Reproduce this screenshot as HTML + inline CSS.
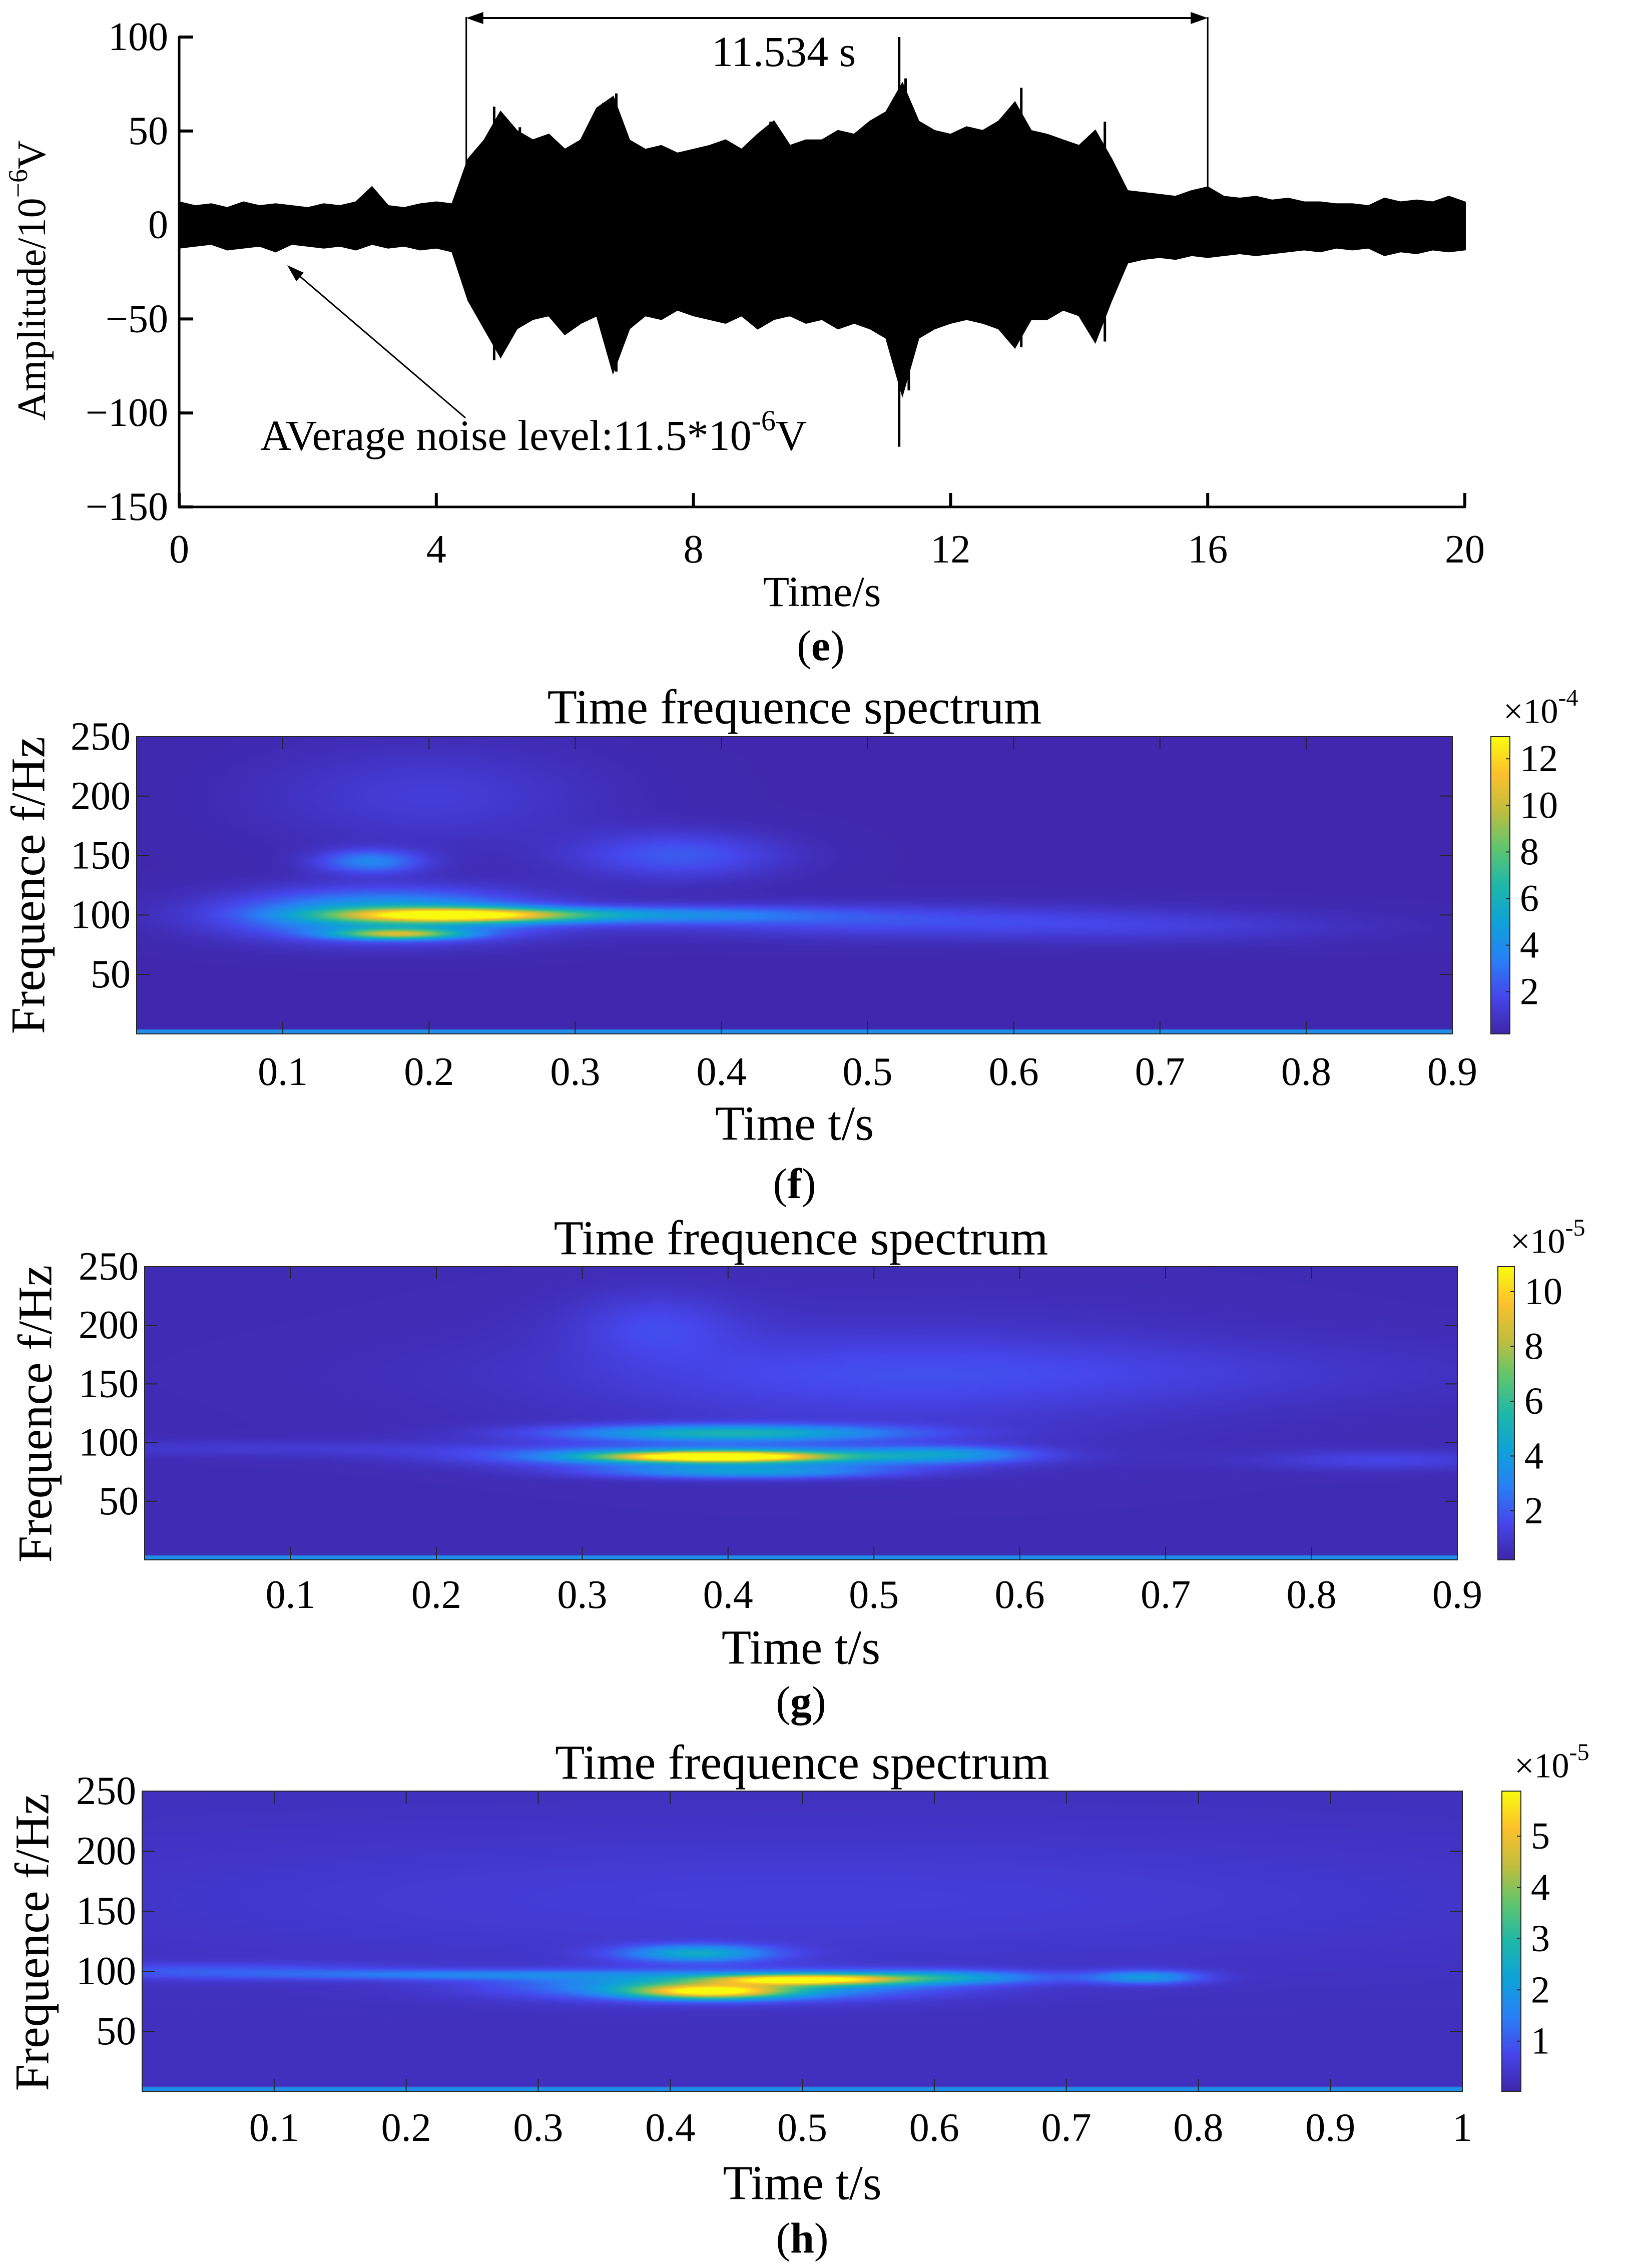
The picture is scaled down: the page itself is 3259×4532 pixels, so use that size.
<!DOCTYPE html>
<html><head><meta charset="utf-8">
<style>
html,body{margin:0;padding:0;background:#fff;}
#root{position:relative;width:3259px;height:4532px;overflow:hidden;background:#fff;}
canvas{position:absolute;}
svg{position:absolute;left:0;top:0;}
text{font-family:"Liberation Serif",serif;fill:#000;}
</style></head>
<body>
<div id="root">
<canvas id="cf"></canvas>
<canvas id="cg"></canvas>
<canvas id="ch"></canvas>
<svg id="svg" width="3259" height="4532" viewBox="0 0 3259 4532"></svg>
</div>
<script>
// ===== Panel (e) data: amplitude envelope (10^-6 V), step 0.25 s from 0 to 20 s =====
const envStep = 0.25;
const envHi = [12,10,11,9,12,10,11,10,9,11,10,12,20,10,9,11,12,11,
 35,45,60,50,45,48,40,45,62,68,45,40,42,38,40,42,45,40,48,55,42,45,45,50,48,55,60,75,55,50,48,52,50,55,65,50,48,45,42,50,35,
 18,17,16,15,18,20,15,14,15,13,14,12,12,11,11,10,14,12,13,12,15,12];
const envLo = [-12,-11,-10,-13,-12,-11,-14,-10,-11,-12,-11,-13,-10,-12,-11,-13,-12,-14,
 -40,-55,-70,-55,-50,-48,-58,-52,-48,-78,-55,-48,-50,-45,-48,-50,-52,-48,-55,-50,-48,-52,-50,-55,-52,-55,-60,-90,-60,-55,-52,-50,-52,-55,-65,-50,-50,-45,-48,-62,-40,
 -20,-18,-17,-18,-16,-17,-16,-15,-16,-15,-14,-13,-14,-12,-13,-12,-16,-14,-15,-13,-14,-13];
const spikeT = [3.0,4.9,5.3,6.6,6.8,9.2,11.2,11.3,13.1,14.4,4.9,6.0,6.8,11.2,11.35,13.1,14.4];
const spikeV = [20,63,52,65,70,55,100,78,73,55,-72,-58,-78,-118,-88,-65,-62];
const eXTicks = [0,4,8,12,16,20];
const eYTicks = [100,50,0,-50,-100,-150];

// ===== Heatmap blobs (t [s], f [Hz], amplitude, width t, width f) =====
const fT = [0.22,0.17,0.18,0.16,0.35,0.37,0.50,0.20,0.70];
const fF = [100,100,84,145,100,150,95,200,90];
const fA = [10.5,5.5,7.5,3.2,3.0,2.0,1.6,1.0,0.9];
const fWt= [0.055,0.07,0.03,0.025,0.08,0.05,0.12,0.08,0.1];
const fWf= [4,14,3,7,5,14,10,30,10];
const fBase = 0.3;

const gT = [0.39,0.40,0.40,0.41,0.55,0.35,0.60,0.85,0.10,0.50];
const gF = [88,88,108,75,90,200,160,85,95,150];
const gA = [9.8,4.5,4.5,3.2,2.3,1.0,0.7,1.0,0.6,0.7];
const gWt= [0.05,0.1,0.08,0.07,0.04,0.04,0.2,0.06,0.15,0.15];
const gWf= [3,6,5,4,5,20,20,6,5,40];
const gBase = 0.45;

const hT = [0.43,0.50,0.44,0.42,0.60,0.76,0.25,0.05,0.50];
const hF = [83,93,88,115,95,95,97,100,160];
const hA = [4.5,4.6,2.3,2.1,1.8,1.7,1.1,0.7,0.3];
const hWt= [0.04,0.05,0.1,0.04,0.06,0.03,0.1,0.1,0.4];
const hWf= [4,3,8,5,4,4,3,5,40];
const hBase = 0.25;

const NS='http://www.w3.org/2000/svg';
const svg=document.getElementById('svg');
function mk(tag,attrs,parent){const e=document.createElementNS(NS,tag);for(const k in attrs)e.setAttribute(k,attrs[k]);(parent||svg).appendChild(e);return e;}
function txt(x,y,s,size,anchor,parent){const t=mk('text',{x:x,y:y,'font-size':size,'text-anchor':anchor||'middle','dominant-baseline':'central'},parent);t.textContent=s;return t;}

// ===== Panel (e) =====
(function(){
 const g=mk('g',{});
 
 
 const L=358,R=2927,T=74,B=1013;
 const X=t=>L+(t-0)/(20-0)*(R-L);
 const Y=v=>T+(100-v)/(250)*(B-T);
 let d='';
 for(let i=0;i<envHi.length;i++){d+=(i?'L':'M')+X(i*envStep).toFixed(1)+' '+Y(envHi[i]).toFixed(1);}
 for(let i=envLo.length-1;i>=0;i--){d+='L'+X(i*envStep).toFixed(1)+' '+Y(envLo[i]).toFixed(1);}
 d+='Z';
 const w=mk('path',{d:d,fill:'#000',stroke:'#000','stroke-width':4},g);
 
 
 for(let i=0;i<spikeT.length;i++){
  const s=mk('line',{x1:X(spikeT[i]),x2:X(spikeT[i]),y1:Y(0),y2:Y(spikeV[i]),stroke:'#000','stroke-width':5},g);
  
  
 }
 const ax=mk('path',{d:`M${L} ${T-2}V${B}H${R+2}`,fill:'none',stroke:'#000','stroke-width':5},g);
 
 
 eYTicks.forEach(v=>{
  mk('line',{x1:L,x2:L+28,y1:Y(v),y2:Y(v),stroke:'#000','stroke-width':6},g);
  const t=txt(L-22,Y(v),(v<0?'\u2212'+(-v):''+v),80,'end',g);
  
  
 });
 eXTicks.forEach(v=>{
  mk('line',{x1:X(v),x2:X(v),y1:B,y2:B-28,stroke:'#000','stroke-width':6},g);
  const t=txt(X(v),1098,''+v,80,'middle',g);
  
  
 });
 const xt=txt(X(10),1182,'Time/s',86,'middle',g);
 
 
 const yt=mk('text',{x:0,y:0,'font-size':80,'text-anchor':'middle','dominant-baseline':'central',transform:'translate(64,560) rotate(-90)'},g);
 yt.innerHTML='Amplitude/10<tspan dy="-28" font-size="54">\u22126</tspan><tspan dy="28">V</tspan>';
 
 
 const x1=X(4.466),x2=X(16);
 mk('line',{x1:x1,x2:x1,y1:34,y2:413,stroke:'#000','stroke-width':3},g);
 mk('line',{x1:x2,x2:x2,y1:34,y2:396,stroke:'#000','stroke-width':3},g);
 mk('line',{x1:x1+20,x2:x2-20,y1:36,y2:36,stroke:'#000','stroke-width':4},g);
 mk('path',{d:`M${x1} 36l34 -12v24z M${x2} 36l-34 -12v24z`,fill:'#000'},g);
 const dt=txt(1566,103,'11.534 s',86,'middle',g);
 
 
 mk('line',{x1:930,y1:835,x2:585,y2:540,stroke:'#000','stroke-width':3},g);
 mk('path',{d:'M574 530 L607 545 L592 562 Z',fill:'#000'},g);
 const nt=mk('text',{x:520,y:870,'font-size':86,'dominant-baseline':'central'},g);
 nt.innerHTML='AVerage noise level:11.5*10<tspan dy="-30" font-size="58">-6</tspan><tspan dy="30">V</tspan>';
 
 
 const cap=mk('text',{x:1640,y:1290,'font-size':86,'text-anchor':'middle','dominant-baseline':'central'},g);
 cap.innerHTML='(<tspan font-weight="bold">e</tspan>)';
 
 
})();

// ===== parula colormap =====
const stops=[[0,62,38,168],[0.125,70,70,235],[0.25,40,128,245],[0.375,14,162,216],[0.5,30,183,168],[0.625,95,197,110],[0.75,192,190,62],[0.875,252,192,44],[1,249,251,14]];
function cmap(u){u=Math.max(0,Math.min(1,u));for(let i=1;i<stops.length;i++){if(u<=stops[i][0]){const a=stops[i-1],b=stops[i],f=(u-a[0])/(b[0]-a[0]);return [a[1]+(b[1]-a[1])*f,a[2]+(b[2]-a[2])*f,a[3]+(b[3]-a[3])*f];}}return stops[8].slice(1);}

function heat(cfg){
 const {cid,L,R,T,B,tmax,T_,F_,A_,Wt,Wf,base,vmin,vmax,xticks,xlabels,cbL,cbR,cbTicks,expo,titleY,tickY,xlabY,capY,capL,ylabX,ylabY,name}=cfg;
 const cv=document.getElementById(cid);
 const W=Math.round((R-L)/3),H=Math.round((B-T)/3);
 cv.width=W;cv.height=H;
 cv.style.left=L+'px';cv.style.top=T+'px';cv.style.width=(R-L)+'px';cv.style.height=(B-T)+'px';
 const ctx=cv.getContext('2d');const img=ctx.createImageData(W,H);
 for(let j=0;j<H;j++){
  const f=250*(1-(j+0.5)/H);
  for(let i=0;i<W;i++){
   const t=tmax*(i+0.5)/W;
   let v=base;
   for(let k=0;k<T_.length;k++){const dx=(t-T_[k])/Wt[k],dy=(f-F_[k])/Wf[k];v+=A_[k]*Math.exp(-0.5*(dx*dx+dy*dy));}
   if(f<4){v=vmin+(vmax-vmin)*0.3;}
   const c=cmap((v-vmin)/(vmax-vmin));const p=(j*W+i)*4;
   img.data[p]=c[0];img.data[p+1]=c[1];img.data[p+2]=c[2];img.data[p+3]=255;
  }
 }
 ctx.putImageData(img,0,0);
 const g=mk('g',{});
 
 
 const X=t=>L+t/tmax*(R-L);const Y=f=>B-f/250*(B-T);
 mk('rect',{x:L,y:T,width:R-L,height:B-T,fill:'none',stroke:'#262626','stroke-width':2},g);
 xticks.forEach((v,i)=>{
  mk('line',{x1:X(v),x2:X(v),y1:B,y2:B-25,stroke:'#262626','stroke-width':2},g);
  mk('line',{x1:X(v),x2:X(v),y1:T,y2:T+25,stroke:'#262626','stroke-width':2},g);
  const t=txt(X(v),tickY,xlabels[i],80,'middle',g);
  
  
 });
 [50,100,150,200,250].forEach(v=>{
  mk('line',{x1:L,x2:L+25,y1:Y(v),y2:Y(v),stroke:'#262626','stroke-width':2},g);
  mk('line',{x1:R,x2:R-25,y1:Y(v),y2:Y(v),stroke:'#262626','stroke-width':2},g);
  const t=txt(L-12,Y(v),''+v,80,'end',g);
  
  
 });
 const tt=txt((L+R)/2,titleY,'Time frequence spectrum',97,'middle',g);
 
 
 const xt=txt((L+R)/2,xlabY,'Time t/s',97,'middle',g);
 
 
 const yt=mk('text',{x:0,y:0,'font-size':96,'text-anchor':'middle','dominant-baseline':'central',transform:`translate(${ylabX},${ylabY}) rotate(-90)`},g);
 yt.textContent='Frequence f/Hz';
 
 
 const cap=mk('text',{x:(L+R)/2,y:capY,'font-size':86,'text-anchor':'middle','dominant-baseline':'central'},g);
 cap.innerHTML='(<tspan font-weight="bold">'+capL+'</tspan>)';
 
 
 const gid='grad'+cid;
 const defs=mk('defs',{},g);const lg=mk('linearGradient',{id:gid,x1:0,y1:1,x2:0,y2:0},defs);
 stops.forEach(s=>mk('stop',{offset:s[0],'stop-color':`rgb(${s[1]},${s[2]},${s[3]})`},lg));
 const cb=mk('rect',{x:cbL,y:T,width:cbR-cbL,height:B-T,fill:`url(#${gid})`,stroke:'#262626','stroke-width':2},g);
 
 
 const CY=v=>B-(v-vmin)/(vmax-vmin)*(B-T);
 cbTicks.forEach(v=>{
  mk('line',{x1:cbR,x2:cbR-8,y1:CY(v),y2:CY(v),stroke:'#262626','stroke-width':2},g);
  const t=txt(cbR+20,CY(v),''+v,76,'start',g);
  
  
 });
 const et=mk('text',{x:cbL+25,y:T-50,'font-size':70,'dominant-baseline':'central'},g);
 et.innerHTML='\u00d710<tspan dy="-28" font-size="48">'+expo+'</tspan>';
 
 
}
const ticks9=[0.1,0.2,0.3,0.4,0.5,0.6,0.7,0.8,0.9];
const lab9=['0.1','0.2','0.3','0.4','0.5','0.6','0.7','0.8','0.9'];
heat({cid:'cf',name:'spectrum-chart-f',L:273,R:2902,T:1472,B:2066,tmax:0.9,T_:fT,F_:fF,A_:fA,Wt:fWt,Wf:fWf,base:fBase,vmin:0.19,vmax:12.95,
 xticks:ticks9,xlabels:lab9,cbL:2979,cbR:3017,cbTicks:[2,4,6,8,10,12],expo:'-4',titleY:1413,tickY:2142,xlabY:2245,capY:2365,capL:'f',ylabX:56,ylabY:1769});
heat({cid:'cg',name:'spectrum-chart-g',L:289,R:2912,T:2531,B:3117,tmax:0.9,T_:gT,F_:gF,A_:gA,Wt:gWt,Wf:gWf,base:gBase,vmin:0.21,vmax:10.91,
 xticks:ticks9,xlabels:lab9,cbL:2993,cbR:3026,cbTicks:[2,4,6,8,10],expo:'-5',titleY:2474,tickY:3187,xlabY:3292,capY:3400,capL:'g',ylabX:70,ylabY:2825});
heat({cid:'ch',name:'spectrum-chart-h',L:284,R:2922,T:3579,B:4179,tmax:1.0,T_:hT,F_:hF,A_:hA,Wt:hWt,Wf:hWf,base:hBase,vmin:0.02,vmax:5.88,
 xticks:[0.1,0.2,0.3,0.4,0.5,0.6,0.7,0.8,0.9,1],xlabels:['0.1','0.2','0.3','0.4','0.5','0.6','0.7','0.8','0.9','1'],cbL:3001,cbR:3039,cbTicks:[1,2,3,4,5],expo:'-5',titleY:3522,tickY:4252,xlabY:4362,capY:4472,capL:'h',ylabX:64,ylabY:3881});
</script>
</body></html>
